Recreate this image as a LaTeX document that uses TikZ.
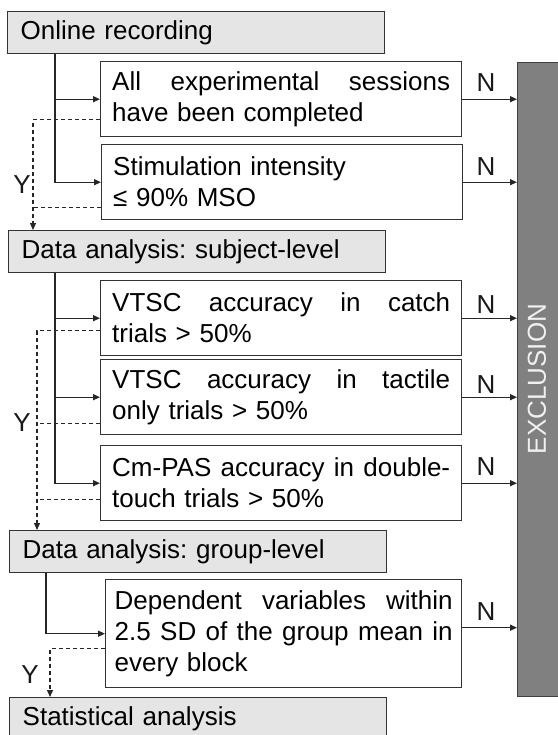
\documentclass[tikz,border=0pt]{standalone}
\usepackage{fontspec}
\setmainfont{Liberation Sans}
\usetikzlibrary{arrows.meta,calc}
\frenchspacing
\newcommand{\jline}[1]{\leavevmode\hbox to 338pt{#1}}
\begin{document}
\begin{tikzpicture}[x=1pt,y=-1pt,
  every node/.style={font=\fontsize{26pt}{31pt}\selectfont},
  graybox/.style={draw=black!80, fill=gray!20, line width=1.4pt, minimum width=377pt, minimum height=42pt,
    text width=351pt, align=left, inner sep=0pt, anchor=north west},
  whitebox/.style={draw=black!80, fill=white, line width=1.4pt, minimum width=361pt, minimum height=75pt,
    text width=338pt, align=left, inner sep=0pt, anchor=north west},
  tree/.style={line width=1.3pt, draw=black!85, -{Triangle[length=7pt,width=6pt]}},
  yes/.style={line width=1.1pt, draw=black!85, dash pattern=on 4pt off 3pt},
  yesarr/.style={yes, -{Triangle[length=7pt,width=6pt]}},
  lab/.style={inner sep=0pt, text=black!90}
]
\useasboundingbox (0,0) rectangle (557,735);

% exclusion bar
\node[draw=black!75, fill=gray, line width=1.4pt, minimum width=50pt, minimum height=634pt, inner sep=0pt, anchor=north west] (excl) at (517,62) {};
\node[rotate=90, text=gray!12, inner sep=0pt] (excltext) at (537,379) {EXCLUSION};

% main boxes
\node[graybox] (rec) at (7,11) {Online recording};
\node[whitebox] (c1) at (100,61) {\jline{All\hfill experimental\hfill sessions}\\have been completed};
\node[whitebox] (c2) at (101,144) {Stimulation intensity\\≤ 90\% MSO};
\node[graybox] (sub) at (8,230) {Data analysis: subject-level};
\node[whitebox] (c3) at (100,280) {\jline{VTSC\hfill accuracy\hfill in\hfill catch}\\trials > 50\%};
\node[whitebox] (c4) at (100,359) {\jline{VTSC\hfill accuracy\hfill in\hfill tactile}\\only trials > 50\%};
\node[whitebox] (c5) at (100,445) {\jline{Cm-PAS\hfill accuracy\hfill in\hfill double-}\\touch trials > 50\%};
\node[graybox] (grp) at (9,530) {Data analysis: group-level};
\node[whitebox, minimum width=356pt, minimum height=108pt] (c6) at (105,579) {\jline{Dependent\hfill variables\hfill within}\\\jline{2.5\hfill SD\hfill of\hfill the\hfill group\hfill mean\hfill in}\\every block};
\node[graybox] (stat) at (9,697) {Statistical analysis};

% solid branches
\draw[tree] ([xshift=48pt]rec.south west) |- (c1.west);
\draw[tree] ([xshift=48pt]rec.south west) |- (c2.west);
\draw[tree] ([xshift=47pt]sub.south west) |- (c3.west);
\draw[tree] ([xshift=47pt]sub.south west) |- (c4.west);
\draw[tree] ([xshift=47pt]sub.south west) |- (c5.west);
\draw[tree] ([xshift=37pt]grp.south west) |- (c6.west);

% dashed yes paths
\coordinate (d1) at ([yshift=-20.5pt]c1.west);
\coordinate (d2) at ([yshift=-25.5pt]c2.west);
\coordinate (j1) at ([xshift=25pt]sub.north west);
\draw[yes] (d2) -- (d2 -| j1);
\draw[yesarr] (d1) -| (j1);

\coordinate (d3) at ([yshift=-12.5pt]c3.west);
\coordinate (d4) at ([yshift=-26.5pt]c4.west);
\coordinate (d5) at ([yshift=-16.5pt]c5.west);
\coordinate (j2) at ([xshift=28pt]grp.north west);
\draw[yes] (d4) -- (d4 -| j2);
\draw[yes] (d5) -- (d5 -| j2);
\draw[yesarr] (d3) -| (j2);

\coordinate (d6) at ([yshift=-15pt]c6.west);
\coordinate (j3) at ([xshift=41pt]stat.north west);
\draw[yesarr] (d6) -| (j3);

\node[lab] (y1) at (22,185) {Y};
\node[lab] (y2) at (22,423) {Y};
\node[lab] (y3) at (30,675) {Y};

% N arrows
\coordinate (e6) at ([yshift=6pt]c6.east);
\draw[tree] (c1.east) -- (c1.east -| excl.west);
\draw[tree] (c2.east) -- (c2.east -| excl.west);
\draw[tree] (c3.east) -- (c3.east -| excl.west);
\draw[tree] (c4.east) -- (c4.east -| excl.west);
\draw[tree] (c5.east) -- (c5.east -| excl.west);
\draw[tree] (e6) -- (e6 -| excl.west);

\node[lab] (n1) at (486,83) {N};
\node[lab] (n2) at (486,167) {N};
\node[lab] (n3) at (486,305) {N};
\node[lab] (n4) at (486,385) {N};
\node[lab] (n5) at (486,467) {N};
\node[lab] (n6) at (486,612) {N};
\end{tikzpicture}
\end{document}
